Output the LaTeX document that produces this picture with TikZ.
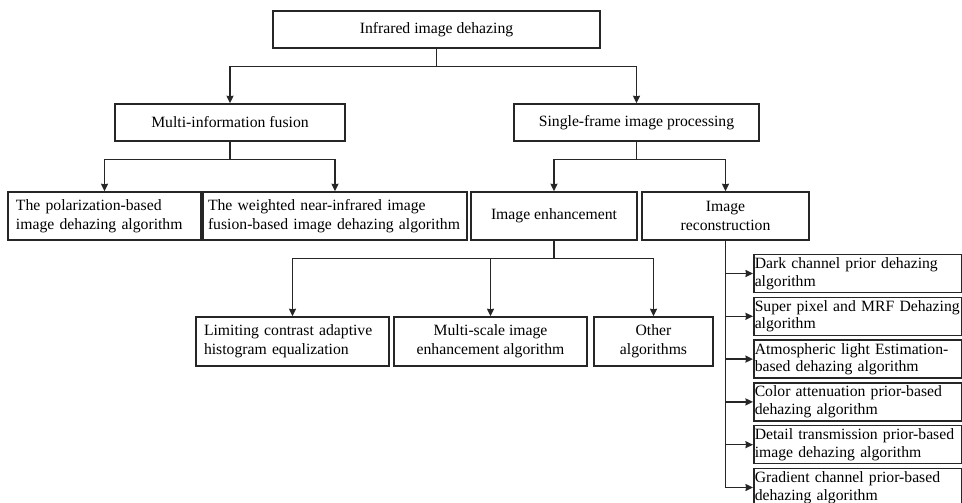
\documentclass[tikz,border=0pt]{standalone}
\usepackage{fontspec}
\setmainfont{Liberation Serif}
\usetikzlibrary{arrows.meta}

\begin{document}
\begin{tikzpicture}[x=1pt,y=-1pt,
	box/.style={draw=black!85,line width=1.5pt,inner sep=0pt,font=\fontsize{15.7}{19}\selectfont},
	cbox/.style={box,align=center},
	lbox/.style={box,align=left,inner xsep=8pt},
	rbox/.style={box,align=left,inner xsep=1pt,text width=206pt,minimum height=38pt,font=\fontsize{15.7}{17.5}\selectfont},
	arr/.style={draw=black!85,line width=1.4pt,-{Stealth[length=7.5pt,width=7pt,inset=0.5pt]}}]
			\useasboundingbox (0,0) rectangle (962,503);
			\clip (0,0) rectangle (962,503);
			%niveles superiores
			\node[cbox,minimum width=327pt,minimum height=37pt] (root) at (436.5,29.5) {Infrared image dehazing};
			\node[cbox,minimum width=230pt,minimum height=37pt] (multi) at (230,122.5) {Multi-information fusion};
			\node[cbox,minimum width=245pt,minimum height=37pt] (single) at (636.5,122.5) {Single-frame image processing};
			\node[lbox,text width=177pt,minimum height=48pt] (polar) at (104.5,216) {The polarization-based\\image dehazing algorithm};
			\node[lbox,inner xsep=5pt,text width=254pt,minimum height=48pt] (weighted) at (335,216) {\mbox{The weighted near-infrared image}\\\mbox{fusion-based image dehazing algorithm}};
			\node[cbox,minimum width=166pt,minimum height=48pt] (enh) at (554,216) {Image enhancement};
			\node[cbox,minimum width=167pt,minimum height=48pt] (recon) at (725.5,216) {Image\\reconstruction};
			%mejora de imagen
			\node[lbox,text width=177pt,minimum height=49pt] (clahe) at (292.5,341.5) {Limiting contrast adaptive\\histogram equalization};
			\node[cbox,minimum width=193pt,minimum height=49pt] (msr) at (490.5,341.5) {Multi-scale image\\enhancement algorithm};
			\node[cbox,minimum width=119pt,minimum height=49pt] (other) at (653.5,341.5) {Other\\algorithms};
			%reconstruccion
			\node[rbox] (dark) at (857.75,273.5) {Dark channel prior dehazing\\algorithm};
			\node[rbox] (mrf) at (857.75,316.3) {\mbox{Super pixel and MRF Dehazing}\\algorithm};
			\node[rbox] (atmo) at (857.75,359.1) {\mbox{Atmospheric light Estimation-}\\based dehazing algorithm};
			\node[rbox] (color) at (857.75,401.9) {Color attenuation prior-based\\dehazing algorithm};
			\node[rbox] (detail) at (857.75,444.7) {\mbox{Detail transmission prior-based}\\image dehazing algorithm};
			\node[rbox] (grad) at (857.75,487.5) {Gradient channel prior-based\\dehazing algorithm};
			%flechas
			\draw[arr] (root.south) -- ++(0,18) -| (multi.north);
			\draw[arr] (root.south) -- ++(0,18) -| (single.north);
			\draw[arr] (multi.south) -- ++(0,18) -| (polar.north);
			\draw[arr] (multi.south) -- ++(0,18) -| (weighted.north);
			\draw[arr] (single.south) -- ++(0,18) -| (enh.north);
			\draw[arr] (single.south) -- ++(0,18) -| (recon.north);
			\draw[arr] (enh.south) -- ++(0,18) -| (clahe.north);
			\draw[arr] (enh.south) -- ++(0,18) -| (msr.north);
			\draw[arr] (enh.south) -- ++(0,18) -| (other.north);
			\draw[arr] (recon.south) |- (dark.west);
			\draw[arr] (recon.south) |- (mrf.west);
			\draw[arr] (recon.south) |- (atmo.west);
			\draw[arr] (recon.south) |- (color.west);
			\draw[arr] (recon.south) |- (detail.west);
			\draw[arr] (recon.south) |- (grad.west);
		\end{tikzpicture}
\end{document}
